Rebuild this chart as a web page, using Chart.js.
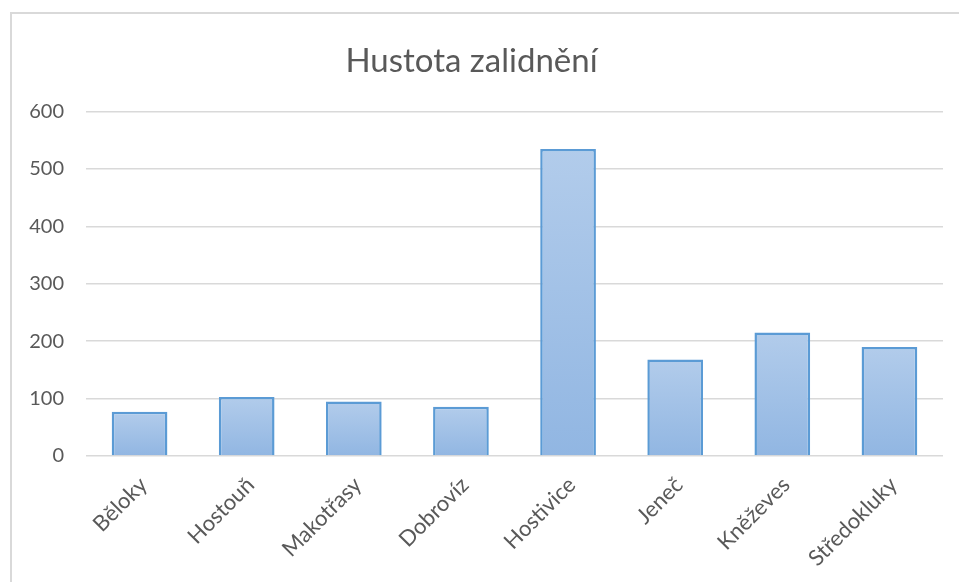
<!DOCTYPE html>
<html>
<head>
<meta charset="utf-8">
<script src="https://cdn.jsdelivr.net/npm/chart.js@4"></script>
<style>
  html, body { margin: 0; padding: 0; background: #fff; }
  #wrap { position: relative; width: 959px; height: 582px; overflow: hidden; }
  #frame { position: absolute; left: 10px; top: 12px; width: 1000px; height: 700px;
           border-left: 2px solid #d9d9d9; border-top: 2px solid #d9d9d9; box-sizing: border-box; }
  #c { position: absolute; left: 0; top: 0; }
</style>
</head>
<body>
<div id="wrap">
  <div id="frame"></div>
  <canvas id="c" width="959" height="582"></canvas>
</div>
<script>
const titleText = 'Hustota zalidnění';
const categories = ['Běloky', 'Hostouň', 'Makotřasy', 'Dobrovíz', 'Hostivice', 'Jeneč', 'Kněževes', 'Středokluky'];
const densities = [77, 103, 95, 86, 535, 168, 215, 190];
const yTicks = [0, 100, 200, 300, 400, 500, 600];

const FONT = 'Lato, "Open Sans", sans-serif';
const GREY = '#595959';

function barGradient(ctx) {
  const chart = ctx.chart;
  if (!chart.chartArea || ctx.raw === undefined) return '#a3c2e6';
  const y = chart.scales.y;
  const top = y.getPixelForValue(ctx.raw);
  const bottom = y.getPixelForValue(0);
  if (!isFinite(top) || !isFinite(bottom) || top === bottom) return '#a3c2e6';
  const g = chart.ctx.createLinearGradient(0, top, 0, bottom);
  g.addColorStop(0, '#b2cceb');
  g.addColorStop(1, '#91b6e2');
  return g;
}

new Chart(document.getElementById('c'), {
  type: 'bar',
  data: {
    labels: categories,
    datasets: [{
      data: densities,
      backgroundColor: barGradient,
      borderColor: '#5b9bd5',
      borderWidth: 2.5,
      barPercentage: 0.52,
      categoryPercentage: 1
    }]
  },
  options: {
    responsive: false,
    animation: false,
    devicePixelRatio: 1,
    layout: { padding: { left: 0, right: 16, top: 0, bottom: 0 } },
    plugins: {
      legend: { display: false },
      tooltip: { enabled: false },
      title: {
        display: true,
        text: titleText,
        color: GREY,
        font: { family: FONT, size: 33, weight: 'normal' },
        padding: { top: 42, bottom: 30 }
      }
    },
    scales: {
      x: {
        grid: { display: false, drawTicks: false },
        border: { display: false },
        ticks: {
          color: GREY,
          font: { family: FONT, size: 22 },
          minRotation: 45, maxRotation: 45,
          padding: 16,
          labelOffset: 4,
          autoSkip: false
        },
        afterFit(s) { s.height = 126; }
      },
      y: {
        min: 0, max: 600,
        afterBuildTicks(s) { s.ticks = yTicks.map(v => ({ value: v })); },
        grid: { color: '#d9d9d9', lineWidth: 1.5, drawTicks: false },
        border: { display: false },
        ticks: {
          color: GREY,
          font: { family: FONT, size: 20 },
          padding: 22
        },
        afterFit(s) { s.width = 86; }
      }
    }
  }
});
</script>
</body>
</html>
